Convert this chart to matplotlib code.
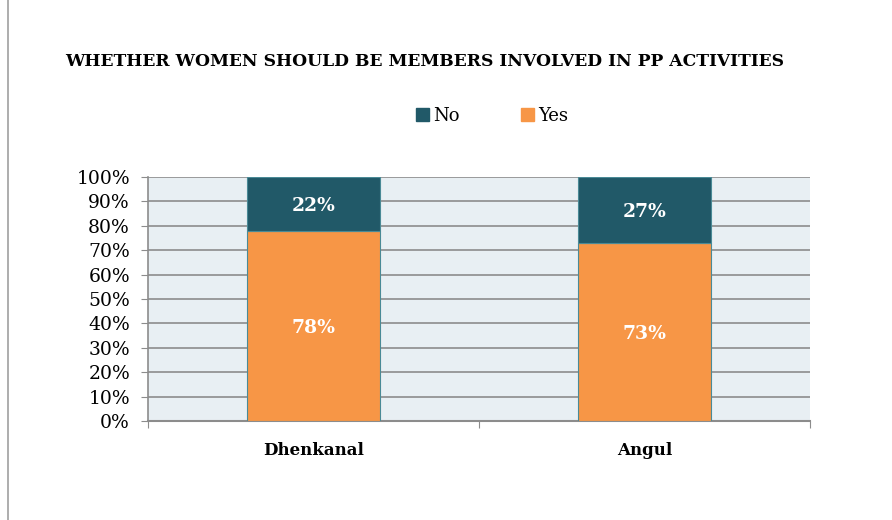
import numpy as np
import matplotlib.pyplot as plt
from matplotlib.patches import Patch
from matplotlib.lines import Line2D

# Données : part des réponses par district
districts = ["Dhenkanal", "Angul"]
yes_pct = [78, 73]
no_pct = [22, 27]

titre = "WHETHER WOMEN SHOULD BE MEMBERS INVOLVED IN PP ACTIVITIES"

c_yes = "#F79646"
c_no = "#215968"
serif = "DejaVu Serif"

fig = plt.figure(figsize=(8.92, 5.2), dpi=100)
ax = fig.add_axes([148 / 892, 1 - 421 / 520, 662 / 892, 244 / 520])
ax.set_facecolor("#E8EFF3")

x = np.arange(len(districts))
ax.bar(x, yes_pct, width=0.4, color=c_yes, edgecolor="#4A8A96", linewidth=0.8, zorder=3)
ax.bar(x, no_pct, width=0.4, bottom=yes_pct, color=c_no, edgecolor="#4A8A96", linewidth=0.8, zorder=3)

# Étiquettes de valeurs dans les barres
for i in range(len(districts)):
    ax.text(x[i], yes_pct[i] / 2 - 1, f"{yes_pct[i]}%", ha="center", va="center",
            color="white", fontsize=13.5, fontweight="bold", family=serif, zorder=4)
    ax.text(x[i], yes_pct[i] + no_pct[i] / 2 - 1, f"{no_pct[i]}%", ha="center", va="center",
            color="white", fontsize=13.5, fontweight="bold", family=serif, zorder=4)

ax.set_xlim(-0.5, 1.5)
ax.set_ylim(0, 100)
ax.set_yticks(np.arange(0, 101, 10))
ax.set_yticklabels([f"{v}%" for v in range(0, 101, 10)], family=serif, fontsize=13.5)
ax.yaxis.grid(True, color="#8C8C8C", linewidth=1.2, zorder=1)
ax.set_axisbelow(True)

ax.set_xticks([-0.5, 0.5, 1.5], minor=False)
ax.set_xticklabels([])
ax.tick_params(axis="x", length=5, color="#8C8C8C", direction="out")
ax.tick_params(axis="y", length=5, color="#8C8C8C", pad=8)
for i, d in enumerate(districts):
    ax.text(x[i], -8.5, d, ha="center", va="top", fontsize=12, fontweight="bold",
            family=serif, transform=ax.transData)

for s in ["top", "right"]:
    ax.spines[s].set_visible(False)
ax.spines["left"].set_color("#8C8C8C")
ax.spines["bottom"].set_color("#8C8C8C")
ax.spines["left"].set_linewidth(1.2)
ax.spines["bottom"].set_linewidth(1.5)

fig.text(65 / 892, 1 - 62 / 520, titre, ha="left", va="center", fontsize=12.3,
         fontweight="heavy", family=serif)

handles = [Patch(facecolor=c_no, edgecolor=c_no), Patch(facecolor=c_yes, edgecolor=c_yes)]
fig.legend(handles, ["No", "Yes"], loc="center", bbox_to_anchor=(492 / 892, 1 - 116 / 520),
           ncol=2, frameon=False, prop={"family": serif, "size": 13},
           handlelength=0.7, handleheight=0.7, handletextpad=0.25, columnspacing=3.4)

# Bordure gauche du cadre
fig.add_artist(Line2D([8 / 892, 8 / 892], [0, 1], color="#A0A0A0", linewidth=1.2))

fig.savefig("out.png", dpi=100)
